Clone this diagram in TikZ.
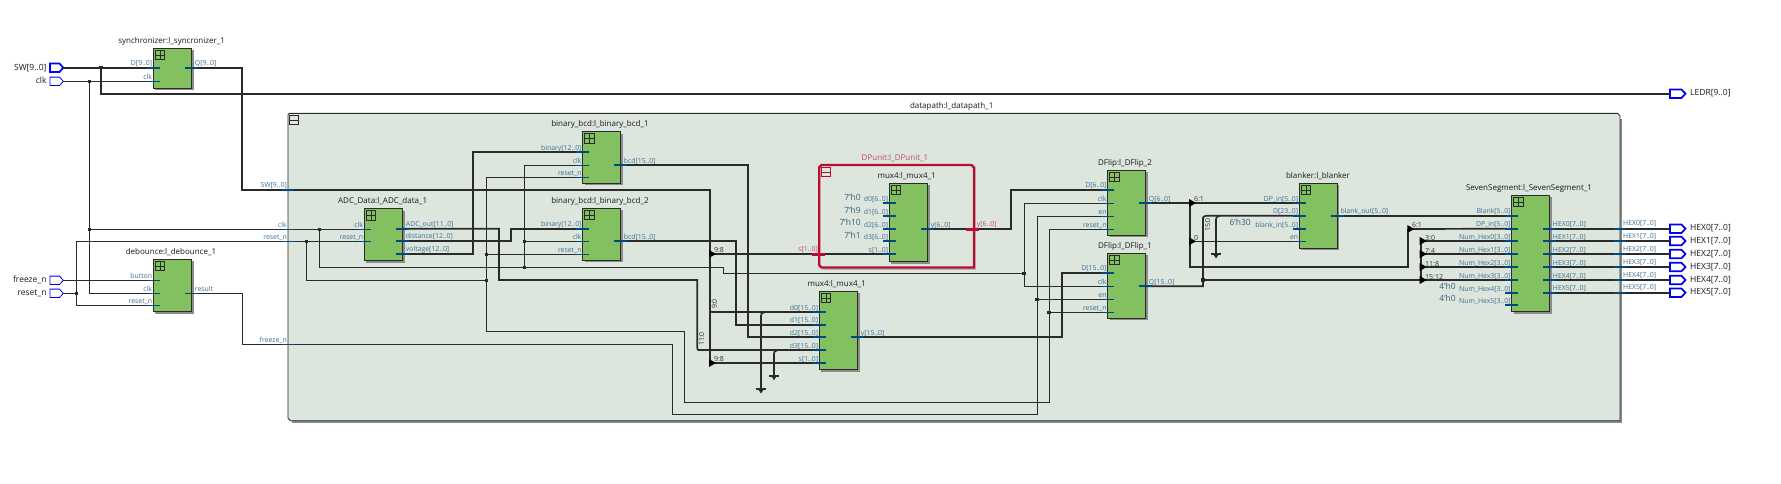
\documentclass[tikz,border=0pt]{standalone}
\usepackage{fontspec}
\setmainfont{Open Sans}
\pgfdeclarelayer{fg}\pgfsetlayers{main,fg}
\definecolor{wirec}{HTML}{2A2A2A}
\definecolor{stubc}{HTML}{004A80}
\definecolor{portc}{HTML}{0000F0}
\definecolor{greenb}{HTML}{82C060}
\definecolor{dpfill}{HTML}{DCE6DD}
\definecolor{redb}{HTML}{BA0C2F}
\definecolor{pinc}{HTML}{3F6F96}
\definecolor{redt}{HTML}{C04A6A}
\definecolor{shad}{HTML}{8C8C8C}
\tikzset{
  sig/.style={draw=wirec,line width=0.8pt},
  bus/.style={draw=wirec,line width=1.7pt},
  busstub/.style={draw=stubc,line width=1.7pt},
  sigstub/.style={draw=stubc,line width=0.8pt},
  redstub/.style={draw=redb,line width=3pt},
  blk/.style={draw=wirec,fill=greenb,line width=0.9pt,inner sep=0pt,outer sep=0pt,anchor=north west},
  pinlab/.style={font=\fontsize{6.9}{7}\selectfont,text=pinc,inner sep=0pt},
  redlab/.style={font=\fontsize{6.9}{7}\selectfont,text=redt,inner sep=0pt},
  ttl/.style={font=\fontsize{8}{8}\selectfont,text=black!90,inner sep=0pt},
  portlab/.style={font=\fontsize{8.5}{9}\selectfont,text=black!90,inner sep=0pt},
  constlab/.style={font=\fontsize{8.5}{9}\selectfont,text=pinc!85!black,inner sep=0pt},
  riplab/.style={font=\fontsize{7}{7}\selectfont,text=black!80,inner sep=0pt},
}
\newcommand\blockbox[8]{%
  \fill[shad] (#2+2,#3+2) rectangle (#4+2,#5+2);
  \pgfmathsetmacro\bw{#4-#2}\pgfmathsetmacro\bh{#5-#3}
  \node[blk,minimum width=\bw pt,minimum height=\bh pt] (#1) at (#2,#3) {};
  \draw[wirec,line width=1pt] (#2+2,#3+2) rectangle (#2+11.5,#3+11.5)
     (#2+6.75,#3+2) -- (#2+6.75,#3+11.5) (#2+2,#3+6.75) -- (#2+11.5,#3+6.75);
  \node[ttl] (#1-t) at (#7,#8) {#6};}
\newcommand\busW[4]{\coordinate (#1) at (#2,#3);
  \begin{pgfonlayer}{fg}\draw[busstub] (#2-6.5,#3) -- (#2+6.3,#3);\end{pgfonlayer}
  \node[pinlab,anchor=base east] (#1-l) at (#2-1,#3-2) {#4};}
\newcommand\sigW[4]{\coordinate (#1) at (#2,#3);
  \begin{pgfonlayer}{fg}\draw[sigstub] (#2-6.5,#3) -- (#2+6.5,#3);\end{pgfonlayer}
  \node[pinlab,anchor=base east] (#1-l) at (#2-1,#3-2) {#4};}
\newcommand\busE[4]{\coordinate (#1) at (#2,#3);
  \begin{pgfonlayer}{fg}\draw[busstub] (#2-6.5,#3) -- (#2+6.3,#3);\end{pgfonlayer}
  \node[pinlab,anchor=base west] (#1-l) at (#2+3,#3-2) {#4};}
\newcommand\sigE[4]{\coordinate (#1) at (#2,#3);
  \begin{pgfonlayer}{fg}\draw[sigstub] (#2-6.5,#3) -- (#2+6.3,#3);\end{pgfonlayer}
  \node[pinlab,anchor=base west] (#1-l) at (#2+3,#3-2) {#4};}
\newcommand\junc[3]{\coordinate (#1) at (#2,#3);
  \begin{pgfonlayer}{fg}\fill[wirec] (#2-1.7,#3-1.7) rectangle (#2+1.7,#3+1.7);\end{pgfonlayer}}
\newcommand\ripper[3]{\coordinate (#1) at (#2,#3);
  \begin{pgfonlayer}{fg}\fill[black] (#2-1,#3-4) -- (#2+6,#3) -- (#2-1,#3+4) -- cycle;\end{pgfonlayer}}
\newcommand\gnd[4]{\coordinate (#1) at (#2+4,#3);
  \draw[bus] (#2,#4) -- (#2,#3+4) .. controls (#2,#3+1.5) .. (#2+4,#3);
  \draw[bus] (#2-5,#4) -- (#2+5,#4);
  \fill[wirec] (#2-3,#4) -- (#2+3,#4) -- (#2,#4+4.5) -- cycle;}
\newcommand\portIn[4]{\coordinate (#1) at (63.3,#2);
  \draw[draw=portc,line width=#4] (50,#2-4.2) -- (59.5,#2-4.2) -- (63.3,#2) -- (59.5,#2+4.2) -- (50,#2+4.2) -- cycle;
  \node[portlab,anchor=base east] (#1-l) at (46.7,#2+2.5) {#3};}
\newcommand\portOut[3]{\coordinate (#1) at (1670,#2);
  \draw[draw=portc,line width=1.7pt] (1670,#2-4.2) -- (1681.5,#2-4.2) -- (1685.5,#2) -- (1681.5,#2+4.2) -- (1670,#2+4.2) -- cycle;
  \node[portlab,anchor=base west] (#1-l) at (1690,#2+2) {#3};}
\begin{document}
\begin{tikzpicture}[x=1pt,y=-1pt]
\useasboundingbox (0,0) rectangle (1781,483);
\fill[white] (0,0) rectangle (1781,483);
% datapath group
\fill[shad] (292,119) -- (1622.3,119) -- (1622.3,423) -- (292,423) -- cycle;
\node[ttl] (dpath-t) at (951.7,106) {datapath:l\_datapath\_1};
\draw[draw=wirec,fill=dpfill,line width=0.9pt] (289.5,113.3) -- (1617.5,113.3) -- (1620,115.8) -- (1620,420.7) -- (290.5,420.7) -- (288,418.2) -- (288,114.8) -- cycle;
\draw[wirec,line width=0.9pt] (289.5,115.8) rectangle (298.8,124.8) (289.5,120.3) -- (298.8,120.3);
% DPunit group
\fill[black!28] (822,167) -- (976,167) -- (976,270) -- (822,270) -- cycle;
\draw[draw=redb,fill=dpfill,line width=2.2pt] (821.5,165) -- (971.5,165) -- (974,167.5) -- (974,267.5) -- (821.5,267.5) -- (819.3,265.3) -- (819.3,167.2) -- cycle;
\draw[redb,line width=1pt] (821.5,167.3) rectangle (830.8,176.8) (821.5,172) -- (830.8,172);
\node[redlab,font=\fontsize{8}{8}\selectfont] (dpu-t) at (895,158) {DPunit:l\_DPunit\_1};
% blocks
\blockbox{sync}{153.3}{48.3}{191.7}{88.3}{synchronizer:l\_syncronizer\_1}{171.7}{41}
\blockbox{deb}{153.3}{259.3}{191.7}{311.7}{debounce:l\_debounce\_1}{171}{252}
\blockbox{adc}{364.3}{208.7}{402.7}{260.7}{ADC\_Data:l\_ADC\_data\_1}{382.7}{201}
\blockbox{bcdA}{582.7}{131.7}{620.7}{183.3}{binary\_bcd:l\_binary\_bcd\_1}{600}{124}
\blockbox{bcdB}{582.7}{208.3}{620.7}{260.3}{binary\_bcd:l\_binary\_bcd\_2}{600}{201}
\blockbox{muxO}{819.3}{291.3}{857.7}{369.7}{mux4:l\_mux4\_1}{836.7}{284}
\blockbox{muxI}{889.3}{183.3}{927.7}{261.7}{mux4:l\_mux4\_1}{906.7}{176}
\blockbox{flipB}{1107.7}{170.3}{1145.7}{235.3}{DFlip:l\_DFlip\_2}{1125}{163.3}
\blockbox{flipA}{1107.7}{253.3}{1145.7}{318.3}{DFlip:l\_DFlip\_1}{1125}{246}
\blockbox{blnk}{1299.3}{183.3}{1337.3}{248.3}{blanker:l\_blanker}{1318}{176}
\blockbox{seven}{1511.7}{195.3}{1549.7}{311.7}{SevenSegment:l\_SevenSegment\_1}{1529}{188.3}
% pins
\busW{sD}{153.3}{67.7}{D[9..0]}\sigW{sCLK}{153.3}{81.3}{clk}\busE{sQ}{191.7}{67.7}{Q[9..0]}
\sigW{dBTN}{153.3}{280.3}{button}\sigW{dCLK}{153.3}{293.3}{clk}\sigW{dRST}{153.3}{305.3}{reset\_n}\sigE{dRES}{191.7}{293.3}{result}
\sigW{aCLK}{364.3}{229.3}{clk}\sigW{aRST}{364.3}{241.3}{reset\_n}
\busE{aOUT}{402.7}{228.7}{ADC\_out[11..0]}\busE{aDIST}{402.7}{240.7}{distance[12..0]}\busE{aV}{402.7}{253.7}{voltage[12..0]}
\busW{bABIN}{582.7}{152}{binary[12..0]}\sigW{bACLK}{582.7}{165.3}{clk}\sigW{bARST}{582.7}{177.3}{reset\_n}\busE{bAOUT}{620.7}{165}{bcd[15..0]}
\busW{bBBIN}{582.7}{228.7}{binary[12..0]}\sigW{bBCLK}{582.7}{241.3}{clk}\sigW{bBRST}{582.7}{254.3}{reset\_n}\busE{bBOUT}{620.7}{241}{bcd[15..0]}
\busW{mA}{819.3}{312}{d0[15..0]}\busW{mB}{819.3}{324.7}{d1[15..0]}\busW{mC}{819.3}{337}{d2[15..0]}\busW{mD}{819.3}{350}{d3[15..0]}\busW{mS}{819.3}{363}{s[1..0]}\busE{mY}{857.7}{337}{y[15..0]}
\busW{iA}{889.3}{203}{d0[6..0]}\busW{iB}{889.3}{216}{d1[6..0]}\busW{iC}{889.3}{229}{d2[6..0]}\busW{iD}{889.3}{241}{d3[6..0]}\busW{iS}{889.3}{254}{s[1..0]}\busE{iY}{927.7}{229}{y[6..0]}
\busW{fBD}{1107.7}{189.7}{D[6..0]}\sigW{fBCLK}{1107.7}{203.3}{clk}\sigW{fBEN}{1107.7}{216.3}{en}\sigW{fBRST}{1107.7}{229.3}{reset\_n}\busE{fBQ}{1145.7}{203}{Q[6..0]}
\busW{fAD}{1107.7}{272.7}{D[15..0]}\sigW{fACLK}{1107.7}{286.3}{clk}\sigW{fAEN}{1107.7}{299.3}{en}\sigW{fARST}{1107.7}{312.3}{reset\_n}\busE{fAQ}{1145.7}{286.3}{Q[15..0]}
\busW{kDP}{1299.3}{203}{DP\_in[5..0]}\busW{kD}{1299.3}{215.7}{D[23..0]}\busW{kBI}{1299.3}{229}{blank\_in[5..0]}\sigW{kEN}{1299.3}{241.3}{en}\busE{kOUT}{1337.3}{215.7}{blank\_out[5..0]}
\busW{vBL}{1511.7}{215.7}{Blank[5..0]}\busW{vDP}{1511.7}{228.7}{DP\_in[5..0]}
\busW{vN0}{1511.7}{241}{Num\_Hex0[3..0]}\busW{vN1}{1511.7}{254}{Num\_Hex1[3..0]}\busW{vN2}{1511.7}{267}{Num\_Hex2[3..0]}\busW{vN3}{1511.7}{280}{Num\_Hex3[3..0]}\busW{vN4}{1511.7}{293}{Num\_Hex4[3..0]}\busW{vN5}{1511.7}{305}{Num\_Hex5[3..0]}
% boundary pins
\busW{bSW}{288}{189.7}{SW[9..0]}\sigW{bCLK}{288}{229.3}{clk}\sigW{bRST}{288}{241.3}{reset\_n}\sigW{bFRZ}{288}{344.3}{freeze\_n}
% ports
\portIn{pSW}{67.7}{SW[9..0]}{1.7pt}\portIn{pCLK}{81.3}{clk}{0.8pt}\portIn{pFRZ}{280.3}{freeze\_n}{0.8pt}\portIn{pRST}{293.3}{reset\_n}{0.8pt}
\portOut{pLED}{93.7}{LEDR[9..0]}
\foreach \i/\yy in {0/228.7,1/241,2/254,3/267,4/280,5/292.7}{
  \busE{vH\i}{1549.7}{\yy}{HEX\i[7..0]}
  \portOut{pH\i}{\yy}{HEX\i[7..0]}
  \begin{pgfonlayer}{fg}\draw[busstub] (1613.5,\yy) -- (1626.3,\yy);\end{pgfonlayer}
  \node[pinlab,anchor=base west] (bH\i-l) at (1623,\yy-3) {HEX\i[7..0]};
  \draw[bus] (vH\i) -- (pH\i);
}
% single-bit wires: clk
\junc{jCa}{89.5}{81.3}\junc{jCb}{89.5}{229.3}\junc{jCc}{319.3}{229.3}\junc{jCd}{524.3}{267.3}\junc{jCe}{524.3}{241.3}\junc{jCf}{1024}{273.3}
\draw[sig] (pCLK) -- (sCLK);
\draw[sig] (jCa) |- (dCLK);
\draw[sig] (jCb) -- (aCLK);
\draw[sig] (jCc) |- (jCd) -- (723,267.3) |- (jCf);
\draw[sig] (jCd) |- (bACLK);
\draw[sig] (jCe) -- (bBCLK);
\draw[sig] (jCf) |- (fBCLK);
\draw[sig] (jCf) |- (fACLK);
% reset
\junc{jRa}{76.5}{293.3}\junc{jRb}{306.7}{241.3}\junc{jRc}{486.3}{280.3}\junc{jRd}{486.3}{254.3}\junc{jRe}{1049}{312.3}
\draw[sig] (pRST) -- (jRa);
\draw[sig] (jRa) |- (dRST);
\draw[sig] (jRa) |- (aRST);
\draw[sig] (jRb) |- (jRc);
\draw[sig] (jRc) |- (bARST);
\draw[sig] (jRd) -- (bBRST);
\draw[sig] (jRc) -- (486.3,331) -- (684,331) -- (684,402.3) -- (1049,402.3) -- (1049,229.3) -- (fBRST);
\draw[sig] (jRe) -- (fARST);
% freeze
\junc{jFa}{1037}{299.3}
\draw[sig] (pFRZ) -- (dBTN);
\draw[sig] (dRES) -- (242.3,293.3) -- (242.3,344.3) -- (672,344.3) -- (672,414) -- (1037,414) -- (1037,216.3) -- (fBEN);
\draw[sig] (jFa) -- (fAEN);
% buses
\junc{jSa}{101}{67.7}
\draw[bus] (pSW) -- (sD);
\draw[bus] (jSa) |- (pLED);
\draw[bus] (sQ) -- (242,67.7) -- (242,189.7) -- (710,189.7) -- (710,363);
\ripper{rS}{710}{254}\ripper{rT}{710}{363}
\draw[bus] (rS) -- (iS);
\draw[bus] (rT) -- (mS);
\draw[bus] (710,308.5) .. controls (710,312) .. (714,312) -- (mA);
\node[riplab,rotate=90] (lbA) at (714.5,304) {9:0};
\node[riplab] (lbB) at (719,250.5) {9:8};
\node[riplab] (lbC) at (719,359) {9:8};
\draw[bus] (aOUT) -- (499,228.7) -- (499,280) -- (697.3,280) -- (697.3,346.5) .. controls (697.3,350) .. (700.5,350) -- (mD);
\node[riplab,rotate=90] (lbD) at (701.7,339) {11:0};
\draw[bus] (aDIST) -- (511,240.7) -- (511,228.7) -- (bBBIN);
\draw[bus] (aV) -- (473.3,253.7) -- (473.3,152) -- (bABIN);
\draw[bus] (bAOUT) -- (748,165) -- (748,337) -- (mC);
\draw[bus] (bBOUT) -- (736,241) -- (736,324.7) -- (mB);
\gnd{gA}{761}{312}{389}
\gnd{gB}{774}{350}{375.7}
\draw[bus] (mY) -- (1062,337) -- (1062,272.7) -- (fAD);
\draw[bus] (iY) -- (1011,229) -- (1011,189.7) -- (fBD);
% red boundary stubs of DPunit
\begin{pgfonlayer}{fg}
\draw[redstub] (812,254) -- (825,254);
\draw[redstub] (966,229) -- (979,229);
\end{pgfonlayer}
\node[redlab,anchor=base east] (lbS) at (818,251.5) {s[1..0]};
\node[redlab,anchor=base west] (lbY) at (976.7,226.5) {y[6..0]};
% constants
\node[constlab,anchor=east] (cA) at (861,197.3) {7'h0};
\node[constlab,anchor=east] (cB) at (861,210) {7'h9};
\node[constlab,anchor=east] (cC) at (861,222) {7'h10};
\node[constlab,anchor=east] (cD) at (861,235) {7'h1};
\node[constlab,anchor=east] (cE) at (1251,222) {6'h30};
\node[constlab,anchor=east] (cF) at (1456,286) {4'h0};
\node[constlab,anchor=east] (cG) at (1456,298) {4'h0};
% right part
\ripper{rA}{1190}{203}\ripper{rB}{1190}{241.3}\ripper{rC}{1408.3}{229}
\draw[bus] (fBQ) -- (kDP);
\draw[bus] (rA) -- (1190,267) -- (1408.3,267) -- (rC);
\draw[bus] (rC) -- (vDP);
\draw[sig] (rB) -- (kEN);
\node[riplab] (lbE) at (1199,199) {6:1};
\node[riplab] (lbF) at (1196,238) {0};
\node[riplab] (lbG) at (1417,225) {6:1};
\junc{jQa}{1203}{280}
\draw[bus] (fAQ) -- (1203,286.3) -- (1203,220) .. controls (1203,216.5) .. (1207,215.7) -- (kD);
\node[riplab,rotate=90] (lbH) at (1207.7,225) {15:0};
\gnd{gC}{1216}{215.7}{254}
\draw[bus] (jQa) -- (vN3);
\ripper{rD}{1420.7}{241}\ripper{rE}{1420.7}{254}\ripper{rF}{1420.7}{267}\ripper{rG}{1420.7}{280}
\draw[bus] (rD) -- (rG);
\draw[bus] (rD) -- (vN0);
\draw[bus] (rE) -- (vN1);
\draw[bus] (rF) -- (vN2);
\node[riplab,anchor=base west] (lbI) at (1425,240) {3:0};
\node[riplab,anchor=base west] (lbJ) at (1425,253) {7:4};
\node[riplab,anchor=base west] (lbK) at (1425,266) {11:8};
\node[riplab,anchor=base west] (lbL) at (1425,279) {15:12};
\draw[bus] (kOUT) -- (vBL);
\end{tikzpicture}
\end{document}
